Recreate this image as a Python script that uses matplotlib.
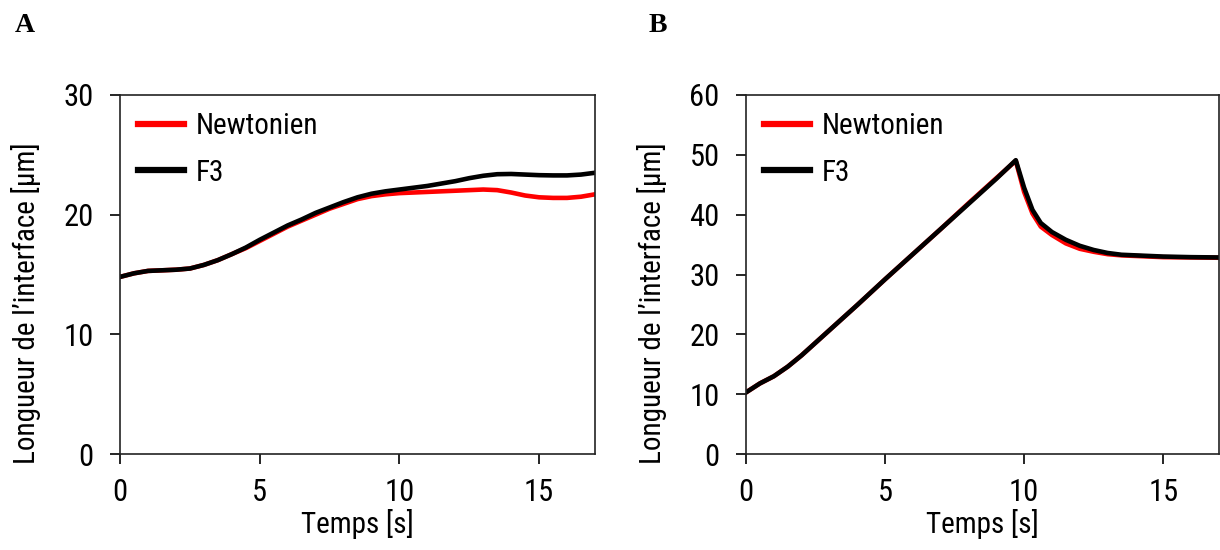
import matplotlib
matplotlib.use('Agg')
from matplotlib import pyplot as plt
from matplotlib import font_manager

# Panel A data
t_a = [0, 0.5, 1, 1.5, 2, 2.5, 3, 3.5, 4, 4.5, 5, 5.5, 6, 6.5, 7, 7.5, 8, 8.5, 9, 9.5, 10,
       10.5, 11, 11.5, 12, 12.5, 13, 13.5, 14, 14.5, 15, 15.5, 16, 16.5, 17]
newt_a = [14.8, 15.1, 15.3, 15.35, 15.4, 15.5, 15.8, 16.2, 16.7, 17.2, 17.8, 18.4, 19.0, 19.5, 20.0,
          20.5, 20.9, 21.3, 21.55, 21.7, 21.8, 21.85, 21.9, 21.95, 22.0, 22.05, 22.1, 22.05, 21.85,
          21.6, 21.45, 21.4, 21.4, 21.5, 21.7]
f3_a = [14.8, 15.1, 15.3, 15.35, 15.4, 15.5, 15.8, 16.2, 16.7, 17.25, 17.9, 18.5, 19.1, 19.6, 20.15,
        20.6, 21.05, 21.45, 21.75, 21.95, 22.1, 22.25, 22.4, 22.6, 22.8, 23.05, 23.25, 23.38, 23.4,
        23.35, 23.3, 23.28, 23.28, 23.35, 23.5]

# Panel B data
t_b = [0, 0.5, 1, 1.5, 2, 3, 4, 5, 6, 7, 8, 9, 9.7, 10, 10.3, 10.6, 11, 11.5, 12, 12.5, 13,
       13.5, 14, 15, 16, 17]
newt_b = [10.3, 11.8, 13.0, 14.6, 16.5, 20.7, 24.9, 29.2, 33.4, 37.6, 41.9, 46.1, 49.0, 43.8,
          40.2, 38.0, 36.6, 35.2, 34.3, 33.8, 33.4, 33.2, 33.1, 32.9, 32.85, 32.8]
f3_b = [10.3, 11.8, 13.0, 14.6, 16.5, 20.7, 24.9, 29.2, 33.4, 37.6, 41.8, 46.0, 49.1, 44.5,
        40.8, 38.6, 37.1, 35.8, 34.8, 34.1, 33.6, 33.3, 33.2, 33.0, 32.9, 32.85]

# pick a condensed sans if one is installed, else plain Liberation Sans
installed = {f.name for f in font_manager.fontManager.ttflist}
families = [n for n in ['Roboto Condensed', 'Liberation Sans Narrow', 'Arial Narrow'] if n in installed]
if families:
    plt.rcParams['font.family'] = [families[0], 'DejaVu Sans']
    size = 22
else:
    plt.rcParams['font.family'] = ['Liberation Sans', 'DejaVu Sans']
    size = 19
plt.rcParams['font.size'] = size

fig = plt.figure(figsize=(12.2, 5.5), dpi=100)
ax_a = fig.add_axes([0.0984, 0.1745, 0.3893, 0.6528])
ax_b = fig.add_axes([0.6115, 0.1745, 0.3875, 0.6528])

panels = [(ax_a, t_a, newt_a, f3_a, 30, [0, 10, 20, 30]),
          (ax_b, t_b, newt_b, f3_b, 60, [0, 10, 20, 30, 40, 50, 60])]

for ax, t, newt, f3, ymax, yticks in panels:
    ax.plot(t, newt, color='#ff0000', lw=3.3, label='Newtonien')
    ax.plot(t, f3, color='black', lw=3.3, label='F3')
    ax.set_xlim(0, 17)
    ax.set_ylim(0, ymax)
    ax.set_xticks([0, 5, 10, 15])
    ax.set_yticks(yticks)
    ax.tick_params(direction='out', length=7, width=1.2)
    ax.tick_params(axis='y', pad=12)
    ax.tick_params(axis='x', pad=10)
    for s in ax.spines.values():
        s.set_linewidth(1.2)
        s.set_color('#222222')
    ax.set_xlabel('Temps [s]', labelpad=2, size=size - 1)
    ax.set_ylabel('Longueur de l\u2019interface [\u00b5m]', size=size - 1)
    ax.yaxis.set_label_coords(-0.167, 0.42)
    leg = ax.legend(loc='upper left', frameon=False, handlelength=1.6, handletextpad=0.4,
                    borderaxespad=0.2, labelspacing=0.62, fontsize=size - 1)
    for h in leg.get_lines():
        h.set_linewidth(4.5)

fig.text(0.0123, 0.976, 'A', family='Liberation Serif', weight='bold', size=20, va='top')
fig.text(0.532, 0.976, 'B', family='Liberation Serif', weight='bold', size=20, va='top')

fig.savefig('out.png', dpi=100)
